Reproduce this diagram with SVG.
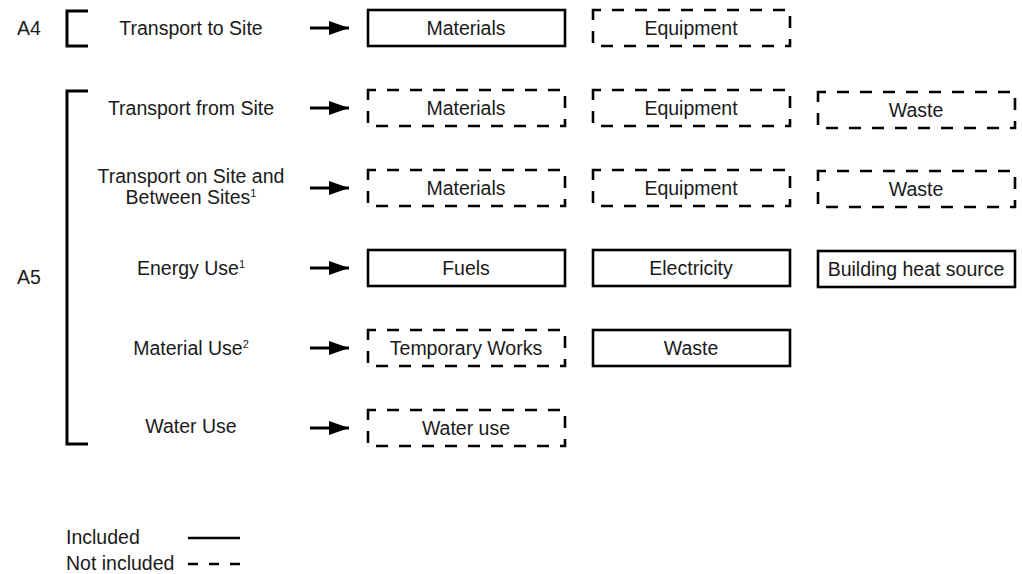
<svg xmlns="http://www.w3.org/2000/svg" width="1022" height="574" viewBox="0 0 1022 574">
<defs>
<marker id="ah" viewBox="0 0 20 14" refX="20" refY="7" markerWidth="20" markerHeight="14" markerUnits="userSpaceOnUse" orient="auto">
<path d="M0,0 L20,7 L0,14 Z" fill="#000"/>
</marker>
<style>
text{font-family:"Liberation Sans",Arial,sans-serif;font-size:19.5px;fill:#1a1a1a;text-anchor:middle}
.l{text-anchor:start}
.inc{fill:#fff;stroke:#000;stroke-width:2.6}
.exc{fill:#fff;stroke:#000;stroke-width:2.6;stroke-dasharray:12 11;stroke-dashoffset:4}
.br{fill:none;stroke:#000;stroke-width:3}
.ar{stroke:#000;stroke-width:3;marker-end:url(#ah)}
.sup{font-size:11px}
</style>
</defs>
<rect width="1022" height="574" fill="#fff"/>

<g id="brackets">
<text class="l" x="17" y="35">A4</text>
<path class="br" d="M88,11 H67 V46 H88"/>
<text class="l" x="17" y="284">A5</text>
<path class="br" d="M88,91 H67 V444 H88"/>
</g>

<g id="labels">
<text x="191" y="35">Transport to Site</text>
<text x="191" y="115">Transport from Site</text>
<text x="191" y="183">Transport on Site and</text>
<text x="191" y="204">Between Sites<tspan class="sup" dy="-7">1</tspan></text>
<text x="191" y="275">Energy Use<tspan class="sup" dy="-7">1</tspan></text>
<text x="191" y="355">Material Use<tspan class="sup" dy="-7">2</tspan></text>
<text x="191" y="433">Water Use</text>
</g>

<g id="connectors">
<line class="ar" x1="310" y1="28" x2="349" y2="28"/>
<line class="ar" x1="310" y1="108" x2="349" y2="108"/>
<line class="ar" x1="310" y1="188" x2="349" y2="188"/>
<line class="ar" x1="310" y1="268" x2="349" y2="268"/>
<line class="ar" x1="310" y1="348" x2="349" y2="348"/>
<line class="ar" x1="310" y1="428" x2="349" y2="428"/>
</g>

<g id="a4-materials"><rect class="inc" x="368" y="10" width="197" height="36"/><text x="466" y="35">Materials</text></g>
<g id="a4-equipment"><rect class="exc" x="593" y="10" width="197" height="36"/><text x="691" y="35">Equipment</text></g>

<g id="from-materials"><rect class="exc" x="368" y="90" width="197" height="36"/><text x="466" y="115">Materials</text></g>
<g id="from-equipment"><rect class="exc" x="593" y="90" width="197" height="36"/><text x="691" y="115">Equipment</text></g>
<g id="from-waste"><rect class="exc" x="818" y="92" width="197" height="36"/><text x="916" y="117">Waste</text></g>

<g id="on-materials"><rect class="exc" x="368" y="170" width="197" height="36"/><text x="466" y="195">Materials</text></g>
<g id="on-equipment"><rect class="exc" x="593" y="170" width="197" height="36"/><text x="691" y="195">Equipment</text></g>
<g id="on-waste"><rect class="exc" x="818" y="171" width="197" height="36"/><text x="916" y="196">Waste</text></g>

<g id="energy-fuels"><rect class="inc" x="368" y="250" width="197" height="36"/><text x="466" y="275">Fuels</text></g>
<g id="energy-electricity"><rect class="inc" x="593" y="250" width="197" height="36"/><text x="691" y="275">Electricity</text></g>
<g id="energy-heat"><rect class="inc" x="818" y="251" width="197" height="36"/><text x="916" y="276">Building heat source</text></g>

<g id="material-temp"><rect class="exc" x="368" y="330" width="197" height="36"/><text x="466" y="355">Temporary Works</text></g>
<g id="material-waste"><rect class="inc" x="593" y="330" width="197" height="36"/><text x="691" y="355">Waste</text></g>

<g id="water-use"><rect class="exc" x="368" y="410" width="197" height="36"/><text x="466" y="435">Water use</text></g>

<g id="legend">
<text class="l" x="66" y="544">Included</text>
<line x1="188" y1="538" x2="240" y2="538" stroke="#000" stroke-width="2.6"/>
<text class="l" x="66" y="570">Not included</text>
<line x1="188" y1="564" x2="240" y2="564" stroke="#000" stroke-width="2.6" stroke-dasharray="10 11"/>
</g>
</svg>
